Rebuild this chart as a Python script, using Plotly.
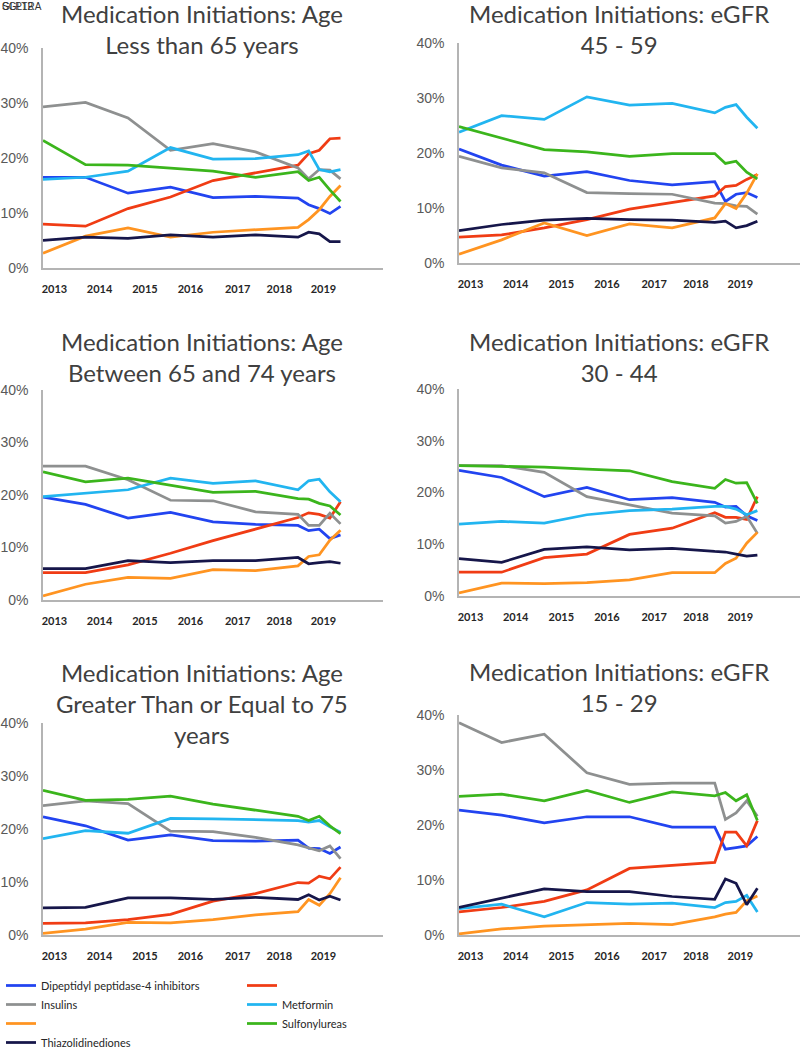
import plotly.graph_objects as go

# x positions of the survey points (7 annual points, then quarterly)
x_points = [0, 1, 2, 3, 4, 5, 6, 6.25, 6.5, 6.75, 7]
year_ticks = [0.27, 1.33, 2.4, 3.47, 4.58, 5.56, 6.6]
year_labels = ["2013", "2014", "2015", "2016", "2017", "2018", "2019"]
pct_ticks = [0, 10, 20, 30, 40]
pct_labels = ["0%", "10%", "20%", "30%", "40%"]

series_names = ["Dipeptidyl peptidase-4 inhibitors", "GLP1RA", "Insulins", "Metformin",
                "SGLT2", "Sulfonylureas", "Thiazolidinediones"]
legend_labels = ["Dipeptidyl peptidase-4 inhibitors", "", "Insulins", "Metformin",
                 "", "Sulfonylureas", "Thiazolidinediones"]

# Age < 65
lt65_dpp4 = [16.5, 16.5, 13.6, 14.7, 12.8, 13.0, 12.7, 11.5, 10.8, 9.9, 11.2]
lt65_glp1 = [8.0, 7.6, 10.8, 12.9, 15.9, 17.3, 18.7, 20.8, 21.4, 23.5, 23.6]
lt65_ins = [29.3, 30.1, 27.3, 21.4, 22.6, 21.1, 18.2, 16.2, 17.9, 17.8, 16.2]
lt65_met = [16.1, 16.5, 17.6, 21.9, 19.8, 19.9, 20.6, 21.3, 17.9, 17.5, 17.9]
lt65_sglt2 = [2.7, 5.8, 7.3, 5.6, 6.5, 7.0, 7.4, 8.8, 10.6, 13.0, 15.0]
lt65_su = [23.2, 18.8, 18.7, 18.1, 17.6, 16.5, 17.5, 15.9, 16.5, 14.2, 12.1]
lt65_tzd = [5.0, 5.6, 5.4, 6.0, 5.6, 6.0, 5.6, 6.5, 6.2, 4.8, 4.8]

# eGFR 45 - 59
e45_dpp4 = [20.7, 17.8, 15.8, 16.6, 15.0, 14.2, 14.8, 11.2, 12.5, 12.8, 11.9]
e45_glp1 = [4.7, 5.1, 6.4, 7.9, 9.8, 11.0, 12.2, 13.9, 14.1, 15.2, 16.1]
e45_ins = [19.4, 17.3, 16.4, 12.8, 12.6, 12.5, 10.9, 10.8, 10.4, 10.3, 8.9]
e45_met = [23.8, 26.8, 26.1, 30.2, 28.7, 29.0, 27.3, 28.3, 28.8, 26.5, 24.5]
e45_sglt2 = [1.6, 4.2, 7.3, 5.0, 7.1, 6.4, 8.2, 10.8, 9.9, 12.7, 16.2]
e45_su = [24.8, 22.7, 20.6, 20.2, 19.4, 19.9, 19.9, 18.1, 18.5, 16.5, 15.3]
e45_tzd = [5.9, 7.0, 7.8, 8.1, 7.9, 7.8, 7.4, 7.6, 6.4, 6.8, 7.6]

# Age 65 - 74
a65_dpp4 = [19.6, 18.2, 15.6, 16.7, 14.9, 14.4, 14.2, 13.2, 13.5, 11.7, 12.4]
a65_glp1 = [5.2, 5.2, 6.7, 8.9, 11.3, 13.5, 15.7, 16.6, 16.3, 15.6, 18.7]
a65_ins = [25.5, 25.5, 22.9, 19.0, 18.9, 16.8, 16.3, 14.2, 14.2, 16.5, 14.5]
a65_met = [19.7, 20.3, 21.0, 23.2, 22.2, 22.7, 21.0, 22.7, 23.0, 20.6, 18.7]
a65_sglt2 = [0.8, 3.0, 4.3, 4.1, 5.8, 5.6, 6.5, 8.3, 8.6, 11.4, 13.3]
a65_su = [24.4, 22.5, 23.2, 21.9, 20.5, 20.7, 19.3, 19.2, 18.4, 17.9, 16.2]
a65_tzd = [6.0, 6.0, 7.5, 7.1, 7.5, 7.5, 8.1, 6.9, 7.1, 7.3, 7.0]

# eGFR 30 - 44
e30_dpp4 = [24.3, 22.9, 19.2, 21.0, 18.6, 19.0, 18.1, 17.2, 17.3, 15.5, 14.6]
e30_glp1 = [4.6, 4.6, 7.4, 8.1, 11.9, 13.1, 16.1, 15.2, 15.2, 14.8, 19.2]
e30_ins = [25.2, 25.2, 23.9, 19.2, 17.6, 16.0, 15.5, 14.1, 14.4, 15.4, 12.1]
e30_met = [13.9, 14.4, 14.1, 15.7, 16.5, 16.8, 17.3, 17.3, 16.8, 15.7, 16.5]
e30_sglt2 = [0.6, 2.5, 2.4, 2.6, 3.1, 4.5, 4.5, 6.3, 7.3, 10.2, 12.3]
e30_su = [25.2, 25.0, 24.9, 24.5, 24.2, 22.1, 20.8, 22.5, 21.8, 21.9, 17.9]
e30_tzd = [7.2, 6.5, 9.0, 9.5, 8.9, 9.2, 8.6, 8.5, 8.1, 7.7, 7.9]

# Age >= 75
ge75_dpp4 = [22.3, 20.6, 17.9, 18.9, 17.8, 17.7, 17.9, 16.4, 16.3, 15.4, 16.6]
ge75_glp1 = [2.2, 2.3, 2.9, 3.9, 6.4, 7.8, 9.9, 9.8, 11.1, 10.6, 12.8]
ge75_ins = [24.4, 25.3, 24.8, 19.6, 19.5, 18.4, 17.0, 16.4, 15.9, 16.8, 14.4]
ge75_met = [18.2, 19.7, 19.2, 22.0, 21.9, 21.8, 21.6, 21.3, 21.6, 20.4, 19.4]
ge75_sglt2 = [0.3, 1.1, 2.4, 2.3, 2.9, 3.8, 4.4, 6.7, 5.6, 7.8, 10.8]
ge75_su = [27.3, 25.4, 25.6, 26.2, 24.7, 23.6, 22.4, 21.6, 22.4, 20.6, 19.1]
ge75_tzd = [5.1, 5.2, 7.0, 7.0, 6.7, 7.1, 6.7, 7.6, 6.6, 7.3, 6.6]

# eGFR 15 - 29
e15_dpp4 = [22.7, 21.8, 20.4, 21.5, 21.5, 19.6, 19.6, 15.6, 15.9, 16.2, 17.9]
e15_glp1 = [4.2, 5.0, 6.1, 8.2, 12.1, 12.7, 13.2, 18.7, 18.7, 16.2, 20.8]
e15_ins = [38.6, 35.0, 36.5, 29.5, 27.4, 27.6, 27.6, 21.0, 22.2, 24.4, 21.6]
e15_met = [4.8, 5.6, 3.3, 5.9, 5.6, 5.8, 5.0, 5.9, 6.1, 7.2, 4.2]
e15_sglt2 = [0.2, 1.1, 1.6, 1.9, 2.1, 1.9, 3.3, 3.8, 4.1, 6.2, 7.1]
e15_su = [25.2, 25.6, 24.4, 26.3, 24.1, 26.0, 25.3, 25.9, 24.4, 25.5, 20.8]
e15_tzd = [5.0, 6.7, 8.4, 7.9, 7.9, 7.0, 6.5, 10.2, 9.4, 5.5, 8.5]

colors = ["#2244F0", "#F03C14", "#8E9090", "#22B5F0", "#FF9421", "#3BB51C", "#16164A"]

W, H = 800, 1048


def px_x(v):
    return v / W


def px_y(v):
    return 1 - v / H


# plot-area boxes in pixels (left, right, top at 40%, bottom at 0%) and title centre
panels = [
    dict(title="Medication Initiations: Age<br>Less than 65 years",
         data=[lt65_dpp4, lt65_glp1, lt65_ins, lt65_met, lt65_sglt2, lt65_su, lt65_tzd],
         box=(43, 383, 48, 268), tx=202, ty=29),
    dict(title="Medication Initiations: eGFR<br>45 - 59",
         data=[e45_dpp4, e45_glp1, e45_ins, e45_met, e45_sglt2, e45_su, e45_tzd],
         box=(459, 800, 43, 263), tx=619, ty=29),
    dict(title="Medication Initiations: Age<br>Between 65 and 74 years",
         data=[a65_dpp4, a65_glp1, a65_ins, a65_met, a65_sglt2, a65_su, a65_tzd],
         box=(43, 383, 390, 600), tx=202, ty=357),
    dict(title="Medication Initiations: eGFR<br>30 - 44",
         data=[e30_dpp4, e30_glp1, e30_ins, e30_met, e30_sglt2, e30_su, e30_tzd],
         box=(459, 800, 389, 596), tx=619, ty=357),
    dict(title="Medication Initiations: Age<br>Greater Than or Equal to 75<br>years",
         data=[ge75_dpp4, ge75_glp1, ge75_ins, ge75_met, ge75_sglt2, ge75_su, ge75_tzd],
         box=(43, 383, 723, 935), tx=202, ty=703),
    dict(title="Medication Initiations: eGFR<br>15 - 29",
         data=[e15_dpp4, e15_glp1, e15_ins, e15_met, e15_sglt2, e15_su, e15_tzd],
         box=(459, 800, 715, 935), tx=619, ty=687),
]

title_font = dict(family="Lato, sans-serif", size=24, color="#404040")
axis_color = "#B4B4B4"

fig = go.Figure()
layout = {}
annotations = []

for i, p in enumerate(panels):
    n = i + 1
    xa = "x" if n == 1 else f"x{n}"
    ya = "y" if n == 1 else f"y{n}"
    for k, vals in enumerate(p["data"]):
        fig.add_trace(go.Scatter(
            x=x_points, y=vals, mode="lines", xaxis=xa, yaxis=ya,
            name=legend_labels[k],
            line=dict(color=colors[k], width=2.75),
            hovertemplate=series_names[k] + ": %{y:.1f}%<extra></extra>",
            showlegend=(n == 1),
            legend="legend" if k in (0, 2, 4, 6) else "legend2",
        ))
    l, r, t, b = p["box"]
    layout[f"xaxis{'' if n == 1 else n}"] = dict(
        domain=[px_x(l), px_x(r)], anchor=ya, range=[0, 8],
        tickvals=year_ticks, ticktext=year_labels,
        showline=True, linecolor=axis_color, linewidth=1.5,
        showgrid=False, zeroline=False,
        ticks="outside", ticklen=10, tickcolor="rgba(0,0,0,0)",
        tickfont=dict(family="Lato, sans-serif", size=11, color="#262626", weight="bold"),
        fixedrange=True,
    )
    layout[f"yaxis{'' if n == 1 else n}"] = dict(
        domain=[px_y(b), px_y(t)], anchor=xa, range=[0, 40],
        tickvals=pct_ticks, ticktext=pct_labels,
        showline=True, linecolor=axis_color, linewidth=1.5,
        showgrid=False, zeroline=False,
        ticks="outside", ticklen=10, tickcolor="rgba(0,0,0,0)",
        tickfont=dict(family="Liberation Sans, Arial, sans-serif", size=14, color="#595959"),
        fixedrange=True,
    )
    annotations.append(dict(
        text=p["title"], xref="paper", yref="paper",
        x=px_x(p["tx"]), y=px_y(p["ty"]), xanchor="center", yanchor="middle",
        showarrow=False, font=title_font,
    ))

# stray legend labels that sit on top of each other in the top-left corner of the original
for txt in ["SGLT2", "GLP1RA"]:
    annotations.append(dict(
        text=txt, xref="paper", yref="paper", x=0, y=px_y(6),
        xanchor="left", yanchor="middle", showarrow=False,
        font=dict(family="Liberation Sans, Arial, sans-serif", size=10, color="#333333"),
    ))

legend_font = dict(family="Lato, sans-serif", size=11, color="#262626")
fig.update_layout(
    width=W, height=H,
    margin=dict(l=0, r=0, t=0, b=0, autoexpand=False),
    paper_bgcolor="white", plot_bgcolor="white",
    annotations=annotations,
    showlegend=True,
    legend=dict(x=px_x(1), y=px_y(971), xanchor="left", yanchor="top",
                orientation="v", font=legend_font, bgcolor="rgba(0,0,0,0)",
                itemwidth=30, tracegroupgap=0),
    legend2=dict(x=px_x(242), y=px_y(971), xanchor="left", yanchor="top",
                 orientation="v", font=legend_font, bgcolor="rgba(0,0,0,0)",
                 itemwidth=30, tracegroupgap=0),
    **layout,
)

# drop the browser's default page margin so the figure sits at the window's corner
fig.write_html("out.html", config={"displayModeBar": False},
               post_script="document.body.style.margin = '0';")
